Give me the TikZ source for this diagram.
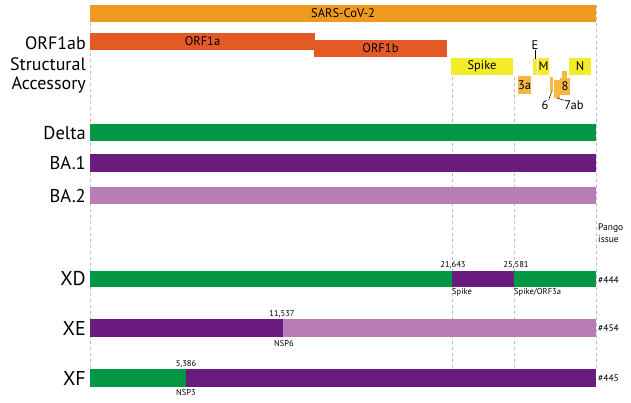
\documentclass[tikz,border=0pt]{standalone}
\usepackage{fontspec}
\setmainfont{PT Sans}
\definecolor{sars}{HTML}{EE9A20}
\definecolor{orfone}{HTML}{E45A27}
\definecolor{structc}{HTML}{F4EC2A}
\definecolor{accc}{HTML}{F5B843}
\definecolor{deltac}{HTML}{009845}
\definecolor{baone}{HTML}{691B7E}
\definecolor{batwo}{HTML}{B87DB5}
\definecolor{guidec}{HTML}{BBBBBB}
\begin{document}
\begin{tikzpicture}[x=1pt,y=-1pt,
  bar/.style={rectangle, draw=none, inner sep=0pt, outer sep=0pt, anchor=north west},
  bartext/.style={label={[inner sep=0pt, font=\fontsize{12.5}{14}\selectfont]center:#1}},
  guide/.style={draw=guidec, line width=0.9pt, dash pattern=on 3pt off 3pt},
  rowlab/.style={anchor=east, inner sep=0pt, font=\fontsize{18}{20}\selectfont},
  parlab/.style={anchor=east, inner sep=0pt, font=\fontsize{18.5}{20}\selectfont},
  reclab/.style={anchor=east, inner sep=0pt, font=\fontsize{20}{22}\selectfont},
  genelab/.style={inner sep=0pt, font=\fontsize{12.5}{14}\selectfont},
  small/.style={inner sep=0pt, font=\fontsize{8.5}{10}\selectfont},
  issue/.style={anchor=west, inner sep=0pt, font=\fontsize{9.5}{11}\selectfont},
  lead/.style={draw=black, line width=0.5pt}]
\useasboundingbox (0,0) rectangle (631,403);
% guides
\coordinate (g1t) at (90,5);   \coordinate (g1b) at (90,369);
\coordinate (g2t) at (452,77); \coordinate (g2b) at (452,369);
\coordinate (g3t) at (514,77); \coordinate (g3b) at (514,369);
\coordinate (g4t) at (596,5);  \coordinate (g4b) at (596,369);
\draw[guide] (g1t) -- (g1b);
\draw[guide] (g2t) -- (g2b);
\draw[guide] (g3t) -- (g3b);
\draw[guide] (g4t) -- (g4b);
% genome
\node[bar, fill=sars, minimum width=506, minimum height=17, bartext={SARS-CoV-2}] (sars) at (90,5) {};
\node[bar, fill=orfone, minimum width=225, minimum height=17, bartext={ORF1a}] (orf1a) at (90,33) {};
\node[bar, fill=orfone, minimum width=133, minimum height=17, bartext={ORF1b}] (orf1b) at (314,40) {};
\node[bar, fill=structc, minimum width=62, minimum height=17, bartext={Spike}] (spike) at (451,58) {};
\node[bar, fill=structc, minimum width=4, minimum height=16] (ebar) at (533,59) {};
\node[bar, fill=structc, minimum width=11, minimum height=17, bartext={M}] (mbar) at (538,58) {};
\node[bar, fill=structc, minimum width=22, minimum height=17, bartext={N}] (nbar) at (569,58) {};
\node[bar, fill=accc, minimum width=13, minimum height=18, bartext={3a}] (threea) at (518,76) {};
\node[bar, fill=accc, minimum width=3, minimum height=15] (sixbar) at (550,77) {};
\node[bar, fill=accc, minimum width=6, minimum height=18] (sevenbar) at (554,80) {};
\node[bar, fill=accc, minimum width=5, minimum height=8] (eighttop) at (562,71) {};
\node[bar, fill=accc, minimum width=10, minimum height=17, bartext={8}] (eightbar) at (560,78) {};
\node[genelab] (elab) at (535,45) {E};
\node[genelab] (sixlab) at (545,105) {6};
\node[genelab] (sevenlab) at (574,105) {7ab};
\draw[lead] (elab.south) -- (ebar.north);
\draw[lead] (sixlab.north east) -- (sixbar.south);
\draw[lead] (sevenlab.north west) -- (sevenbar.south);
% left labels
\node[rowlab] (l1) at (86,43) {ORF1ab};
\node[rowlab] (l2) at (86,64) {Structural};
\node[rowlab] (l3) at (86,85) {Accessory};
\node[parlab] (l4) at (86,133) {Delta};
\node[parlab] (l5) at (86,163) {BA.1};
\node[parlab] (l6) at (86,196) {BA.2};
% parents
\node[bar, fill=deltac, minimum width=506, minimum height=17] (delta) at (90,124) {};
\node[bar, fill=baone, minimum width=506, minimum height=18] (baone) at (90,154) {};
\node[bar, fill=batwo, minimum width=506, minimum height=17] (batwo) at (90,187) {};
% recombinants
\node[reclab] (xdl) at (86,279) {XD};
\node[reclab] (xel) at (86,328) {XE};
\node[reclab] (xfl) at (86,378) {XF};
\node[bar, fill=deltac, minimum width=362, minimum height=16] (xd1) at (90,271) {};
\node[bar, fill=baone, minimum width=62, minimum height=16] (xd2) at (452,271) {};
\node[bar, fill=deltac, minimum width=82, minimum height=16] (xd3) at (514,271) {};
\node[bar, fill=baone, minimum width=193, minimum height=18] (xe1) at (90,319) {};
\node[bar, fill=batwo, minimum width=313, minimum height=18] (xe2) at (283,319) {};
\node[bar, fill=deltac, minimum width=96, minimum height=18] (xf1) at (90,369) {};
\node[bar, fill=baone, minimum width=410, minimum height=18] (xf2) at (186,369) {};
% breakpoints
\node[small] (b1) at (453,265) {21,643};
\node[small] (b2) at (516,265) {25,581};
\node[small, anchor=west] (b1l) at (452,292) {Spike};
\node[small, anchor=west] (b2l) at (514,292) {Spike/ORF3a};
\node[small] (b3) at (282,314) {11,537};
\node[small] (b3l) at (284,344) {NSP6};
\node[small] (b4) at (186,364) {5,386};
\node[small] (b4l) at (186,393) {NSP3};
% pango issues
\node[issue] (p1) at (598,228) {Pango};
\node[issue] (p2) at (598,239) {issue};
\node[issue] (i1) at (598,280) {\#444};
\node[issue] (i2) at (598,328) {\#454};
\node[issue] (i3) at (598,378) {\#445};
\end{tikzpicture}
\end{document}
